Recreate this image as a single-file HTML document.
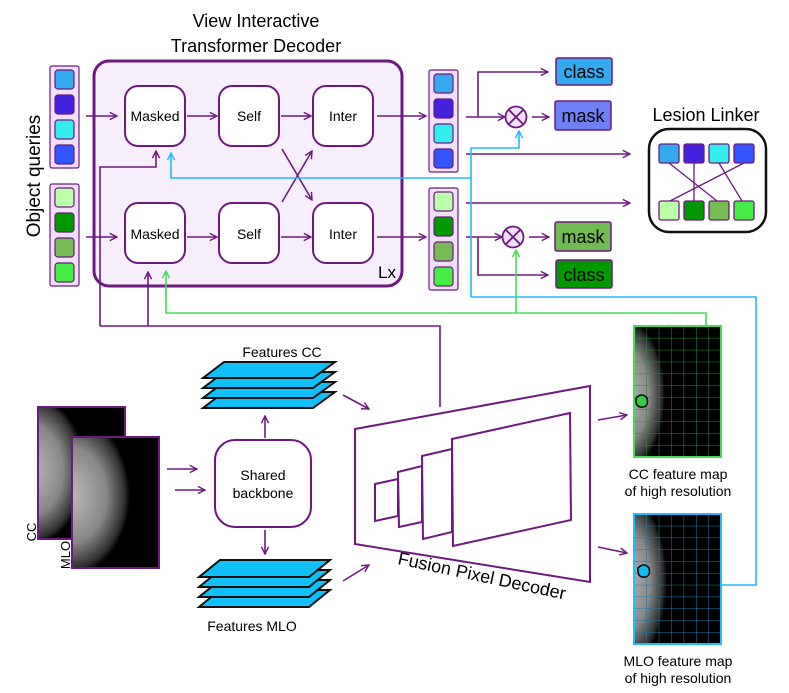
<!DOCTYPE html>
<html><head><meta charset="utf-8"><style>
body{margin:0;background:#fff}
svg{display:block;font-family:"Liberation Sans","DejaVu Sans",sans-serif}
</style></head><body>
<svg width="789" height="693" viewBox="0 0 789 693" xmlns="http://www.w3.org/2000/svg">
<defs>
<marker id="ap" viewBox="0 0 10 10" refX="9" refY="5" markerWidth="9" markerHeight="9" markerUnits="userSpaceOnUse" orient="auto"><path d="M1,1 L9,5 L1,9" fill="none" stroke="#6d1a7e" stroke-width="1.6"/></marker>
<marker id="ac" viewBox="0 0 10 10" refX="9" refY="5" markerWidth="9" markerHeight="9" markerUnits="userSpaceOnUse" orient="auto"><path d="M1,1 L9,5 L1,9" fill="none" stroke="#22bbff" stroke-width="1.6"/></marker>
<marker id="ag" viewBox="0 0 10 10" refX="9" refY="5" markerWidth="9" markerHeight="9" markerUnits="userSpaceOnUse" orient="auto"><path d="M1,1 L9,5 L1,9" fill="none" stroke="#44dd55" stroke-width="1.6"/></marker>
<radialGradient id="br" cx="0.5" cy="0.5" r="0.5"><stop offset="0" stop-color="#bbb"/><stop offset="0.6" stop-color="#888"/><stop offset="0.9" stop-color="#333"/><stop offset="1" stop-color="#000"/></radialGradient>
<clipPath id="c1"><rect x="38" y="407" width="87" height="132"/></clipPath>
<clipPath id="c2"><rect x="72" y="437" width="87" height="131"/></clipPath>
<clipPath id="c3"><rect x="634" y="326" width="87" height="131"/></clipPath>
<clipPath id="c4"><rect x="634" y="514" width="87" height="130"/></clipPath>
<pattern id="gg" width="12.4" height="11.9" patternUnits="userSpaceOnUse" x="634" y="326"><path d="M0,0 V12 M0,0 H13" stroke="#2a8a3a" stroke-width="1" fill="none"/></pattern>
<pattern id="gc" width="12.4" height="11.8" patternUnits="userSpaceOnUse" x="634" y="514"><path d="M0,0 V12 M0,0 H13" stroke="#1a7aa8" stroke-width="1" fill="none"/></pattern>
</defs>

<text x="256" y="27" font-size="18" text-anchor="middle">View Interactive</text>
<text x="256" y="52" font-size="18" text-anchor="middle">Transformer Decoder</text>
<text transform="translate(40,176) rotate(-90)" font-size="19" text-anchor="middle">Object queries</text>

<rect x="94" y="61" width="308" height="225" rx="15" fill="#f6eefb" stroke="#6d1a7e" stroke-width="3"/>
<text x="378" y="278" font-size="17">Lx</text>

<g stroke="#6d1a7e" stroke-width="1.2">
<rect x="50" y="66" width="29" height="102" rx="2" fill="#efe0f7"/>
<rect x="55" y="70" width="19" height="19" rx="3" fill="#33aaee"/>
<rect x="55" y="95" width="19" height="19" rx="3" fill="#4422dd"/>
<rect x="55" y="120" width="19" height="19" rx="3" fill="#33eeee"/>
<rect x="55" y="145" width="19" height="19" rx="3" fill="#3355ff"/>
<rect x="50" y="184" width="29" height="102" rx="2" fill="#efe0f7"/>
<rect x="55" y="188" width="19" height="19" rx="3" fill="#bbffaa"/>
<rect x="55" y="213" width="19" height="19" rx="3" fill="#009900"/>
<rect x="55" y="238" width="19" height="19" rx="3" fill="#77bb55"/>
<rect x="55" y="263" width="19" height="19" rx="3" fill="#44ee44"/>
<rect x="429" y="70" width="29" height="102" rx="2" fill="#efe0f7"/>
<rect x="434" y="74" width="19" height="19" rx="3" fill="#33aaee"/>
<rect x="434" y="99" width="19" height="19" rx="3" fill="#4422dd"/>
<rect x="434" y="124" width="19" height="19" rx="3" fill="#33eeee"/>
<rect x="434" y="149" width="19" height="19" rx="3" fill="#3355ff"/>
<rect x="429" y="188" width="29" height="102" rx="2" fill="#efe0f7"/>
<rect x="434" y="192" width="19" height="19" rx="3" fill="#bbffaa"/>
<rect x="434" y="217" width="19" height="19" rx="3" fill="#009900"/>
<rect x="434" y="242" width="19" height="19" rx="3" fill="#77bb55"/>
<rect x="434" y="267" width="19" height="19" rx="3" fill="#44ee44"/>
</g>

<g fill="#fff" stroke="#6d1a7e" stroke-width="2">
<rect x="125" y="86" width="60" height="60" rx="13"/>
<rect x="219" y="86" width="60" height="60" rx="13"/>
<rect x="313" y="86" width="60" height="60" rx="13"/>
<rect x="125" y="203" width="60" height="60" rx="13"/>
<rect x="219" y="203" width="60" height="60" rx="13"/>
<rect x="313" y="203" width="60" height="60" rx="13"/>
</g>
<g font-size="14" text-anchor="middle">
<text x="155" y="121">Masked</text><text x="249" y="121">Self</text><text x="343" y="121">Inter</text>
<text x="155" y="239">Masked</text><text x="249" y="239">Self</text><text x="343" y="239">Inter</text>
</g>

<g stroke="#6d1a7e" stroke-width="1.6" fill="none">
<line x1="86" y1="116" x2="117" y2="116" marker-end="url(#ap)"/>
<line x1="187" y1="116" x2="217" y2="116" marker-end="url(#ap)"/>
<line x1="281" y1="116" x2="311" y2="116" marker-end="url(#ap)"/>
<line x1="377" y1="116" x2="426" y2="116" marker-end="url(#ap)"/>
<line x1="86" y1="237" x2="117" y2="237" marker-end="url(#ap)"/>
<line x1="187" y1="237" x2="217" y2="237" marker-end="url(#ap)"/>
<line x1="281" y1="237" x2="311" y2="237" marker-end="url(#ap)"/>
<line x1="377" y1="237" x2="426" y2="237" marker-end="url(#ap)"/>
<line x1="282" y1="149" x2="312" y2="200" marker-end="url(#ap)"/>
<line x1="282" y1="202" x2="312" y2="151" marker-end="url(#ap)"/>
<polyline points="100,326 100,167 156,167 156,151" marker-end="url(#ap)"/>
<polyline points="148,326 148,272" marker-end="url(#ap)"/>
<polyline points="100,326 440,326 440,407"/>
<polyline points="466,117 505,117" marker-end="url(#ap)"/>
<polyline points="478,117 478,72 548,72" marker-end="url(#ap)"/>
<line x1="532" y1="117" x2="549" y2="117" marker-end="url(#ap)"/>
<line x1="466" y1="154" x2="630" y2="154" marker-end="url(#ap)"/>
<line x1="466" y1="203" x2="630" y2="203" marker-end="url(#ap)"/>
<polyline points="466,237 502,237" marker-end="url(#ap)"/>
<polyline points="478,237 478,275 548,275" marker-end="url(#ap)"/>
<line x1="529" y1="237" x2="549" y2="237" marker-end="url(#ap)"/>
</g>
<g stroke="#22bbff" stroke-width="1.6" fill="none">
<polyline points="471,178 171,178 171,153" marker-end="url(#ac)"/>
<polyline points="471,297 471,148 519,148 519,131" marker-end="url(#ac)"/>
<polyline points="471,297 756,297 756,585 722,585"/>
</g>
<g stroke="#44dd55" stroke-width="1.6" fill="none">
<polyline points="706,326 706,313 166,313 166,271" marker-end="url(#ag)"/>
<polyline points="516,313 516,250" marker-end="url(#ag)"/>
</g>

<g stroke="#6d1a7e" stroke-width="1.8" fill="#efe0f7">
<circle cx="516" cy="117" r="10.5"/>
<line x1="509" y1="110" x2="523" y2="124"/><line x1="523" y1="110" x2="509" y2="124"/>
<circle cx="513" cy="237" r="10.5"/>
<line x1="506" y1="230" x2="520" y2="244"/><line x1="520" y1="230" x2="506" y2="244"/>
</g>

<g stroke="#6d1a7e" stroke-width="1.5">
<rect x="556" y="58" width="56" height="27" rx="2" fill="#33aaee"/>
<rect x="555" y="101" width="56" height="29" rx="2" fill="#6f7ff5"/>
<rect x="555" y="222" width="56" height="29" rx="2" fill="#72bb52"/>
<rect x="556" y="260" width="56" height="28" rx="2" fill="#009900"/>
</g>
<g font-size="18" text-anchor="middle">
<text x="584" y="78">class</text><text x="583" y="122">mask</text>
<text x="583" y="243">mask</text><text x="584" y="281">class</text>
</g>

<text x="706" y="121" font-size="18" text-anchor="middle">Lesion Linker</text>
<rect x="649" y="129" width="117" height="103" rx="20" fill="#fff" stroke="#111" stroke-width="2.5"/>
<g stroke="#6d1a7e" stroke-width="1.3">
<line x1="669" y1="163" x2="717" y2="201"/><line x1="694" y1="163" x2="694" y2="201"/>
<line x1="719" y1="163" x2="742" y2="201"/><line x1="744" y1="163" x2="670" y2="201"/>
<rect x="659" y="144" width="20" height="19" rx="2" fill="#33aaee"/>
<rect x="684" y="144" width="20" height="19" rx="2" fill="#4422dd"/>
<rect x="709" y="144" width="20" height="19" rx="2" fill="#33eeee"/>
<rect x="734" y="144" width="20" height="19" rx="2" fill="#3355ff"/>
<rect x="659" y="201" width="20" height="19" rx="2" fill="#bbffaa"/>
<rect x="684" y="201" width="20" height="19" rx="2" fill="#009900"/>
<rect x="709" y="201" width="20" height="19" rx="2" fill="#77bb55"/>
<rect x="734" y="201" width="20" height="19" rx="2" fill="#44ee44"/>
</g>

<!-- mammograms -->
<rect x="38" y="407" width="87" height="132" fill="#000"/>
<g clip-path="url(#c1)"><ellipse cx="30" cy="470" rx="55" ry="75" fill="url(#br)"/></g>
<rect x="38" y="407" width="87" height="132" fill="none" stroke="#6d1a7e" stroke-width="2"/>
<rect x="72" y="437" width="87" height="131" fill="#000"/>
<g clip-path="url(#c2)"><ellipse cx="70" cy="495" rx="60" ry="80" fill="url(#br)"/></g>
<rect x="72" y="437" width="87" height="131" fill="none" stroke="#6d1a7e" stroke-width="2"/>
<text transform="translate(36,532) rotate(-90)" font-size="13" text-anchor="middle">CC</text>
<text transform="translate(70,555) rotate(-90)" font-size="13" text-anchor="middle">MLO</text>

<g stroke="#6d1a7e" stroke-width="1.6" fill="none">
<line x1="167" y1="469" x2="197" y2="469" marker-end="url(#ap)"/>
<line x1="175" y1="490" x2="205" y2="490" marker-end="url(#ap)"/>
<line x1="265" y1="438" x2="265" y2="416" marker-end="url(#ap)"/>
<line x1="265" y1="530" x2="265" y2="554" marker-end="url(#ap)"/>
<line x1="343" y1="395" x2="369" y2="409" marker-end="url(#ap)"/>
<line x1="343" y1="581" x2="369" y2="565" marker-end="url(#ap)"/>
<line x1="598" y1="420" x2="627" y2="415" marker-end="url(#ap)"/>
<line x1="598" y1="547" x2="627" y2="553" marker-end="url(#ap)"/>
</g>
<rect x="215" y="440" width="96" height="87" rx="20" fill="#fff" stroke="#6d1a7e" stroke-width="2"/>
<text x="263" y="480" font-size="14" text-anchor="middle">Shared</text>
<text x="263" y="498" font-size="14" text-anchor="middle">backbone</text>

<g fill="#11c0f8" stroke="#111" stroke-width="2">
<polygon points="224,392 335,392 313,408 203,408"/>
<polygon points="224,382 335,382 313,398 203,398"/>
<polygon points="224,372 335,372 313,388 203,388"/>
<polygon points="224,362 335,362 313,378 203,378"/>
<polygon points="220,590 330,590 309,607 199,607"/>
<polygon points="220,580 330,580 309,597 199,597"/>
<polygon points="220,570 330,570 309,587 199,587"/>
<polygon points="220,560 330,560 309,577 199,577"/>
</g>
<text x="282" y="357" font-size="14" text-anchor="middle">Features CC</text>
<text x="252" y="631" font-size="14" text-anchor="middle">Features MLO</text>

<g fill="#fff" stroke="#6d1a7e" stroke-width="2">
<polygon points="355,429 590,386 590,582 355,544"/>
<polygon points="452,439 570,413 571,520 453,546"/>
<polygon points="422,456 452,449 452,532 423,539"/>
<polygon points="398,472 422,466 422,522 399,527"/>
<polygon points="375,484 398,479 398,516 375,521"/>
</g>
<text transform="translate(397,564) rotate(12)" font-size="18">Fusion Pixel Decoder</text>

<rect x="634" y="326" width="87" height="131" fill="#000"/>
<g clip-path="url(#c3)"><ellipse cx="625" cy="395" rx="40" ry="75" fill="url(#br)"/></g>
<rect x="634" y="326" width="87" height="131" fill="url(#gg)"/>
<rect x="634" y="326" width="87" height="131" fill="none" stroke="#44dd55" stroke-width="2"/>
<path d="M636,398 q6,-6 11,0 q2,8 -4,9 q-8,1 -7,-9z" fill="#33cc44" stroke="#000" stroke-width="1.5"/>
<rect x="634" y="514" width="87" height="130" fill="#000"/>
<g clip-path="url(#c4)"><ellipse cx="625" cy="580" rx="42" ry="85" fill="url(#br)"/></g>
<rect x="634" y="514" width="87" height="130" fill="url(#gc)"/>
<rect x="634" y="514" width="87" height="130" fill="none" stroke="#22bbff" stroke-width="2"/>
<path d="M638,568 q6,-6 11,0 q2,8 -4,9 q-8,1 -7,-9z" fill="#11bbf0" stroke="#000" stroke-width="1.5"/>
<g font-size="14" text-anchor="middle">
<text x="678" y="479">CC feature map</text><text x="678" y="496">of high resolution</text>
<text x="678" y="666">MLO feature map</text><text x="678" y="683">of high resolution</text>
</g>
</svg>
</body></html>
